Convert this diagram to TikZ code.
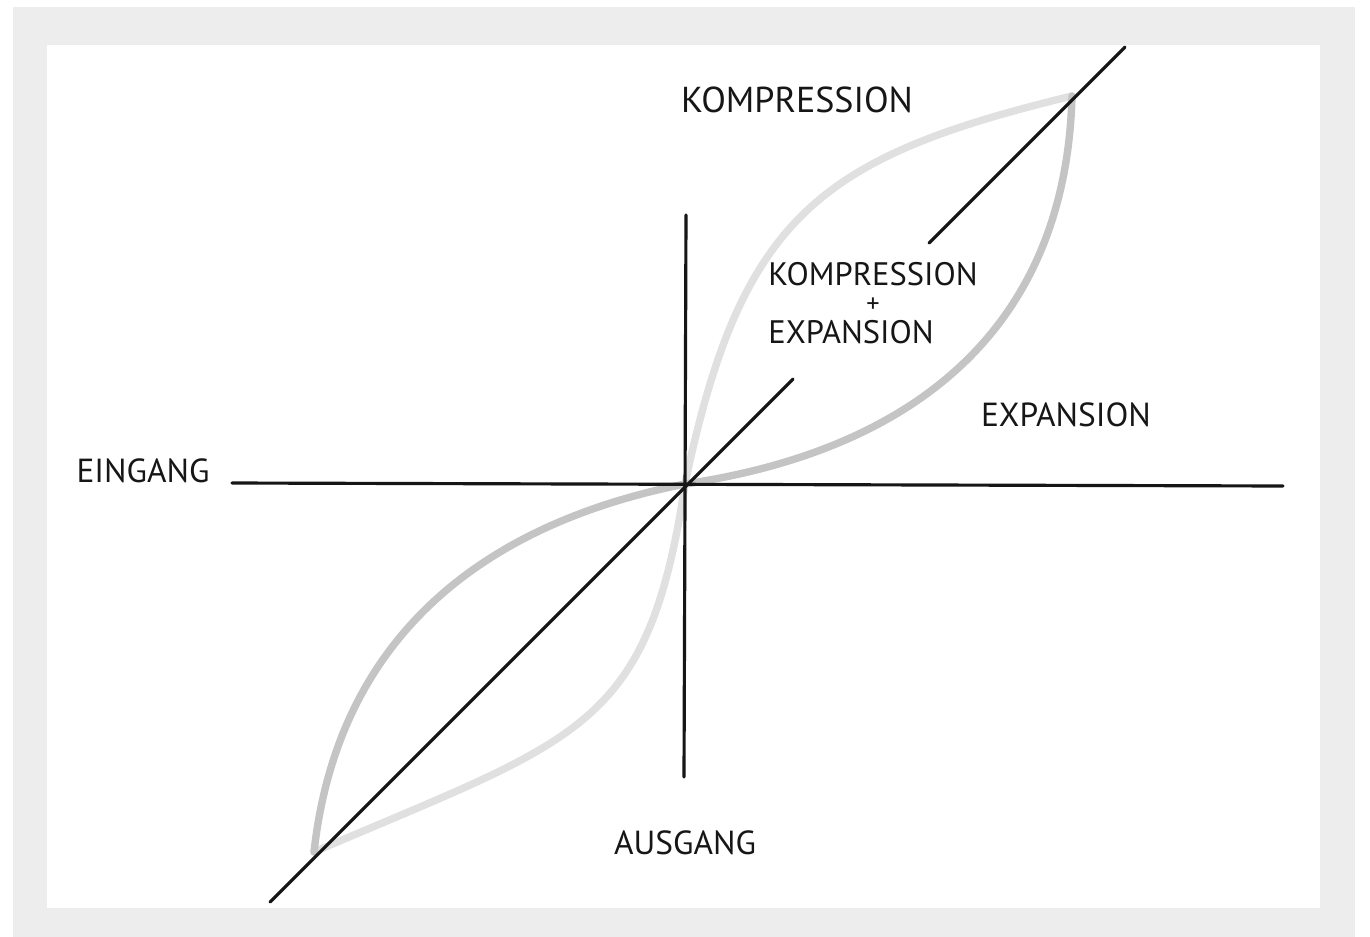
\documentclass[tikz,border=0pt]{standalone}
\usepackage{fontspec}
\setmainfont{PT Sans}
\usetikzlibrary{positioning}
\definecolor{paperframe}{RGB}{237,237,237}
\definecolor{kompgray}{RGB}{224,224,224}
\definecolor{expgray}{RGB}{196,196,196}
\definecolor{inktext}{RGB}{22,22,22}

\begin{document}
\begin{tikzpicture}[x=0.02cm, y=-0.02cm,
    achse/.style={draw=inktext, line width=1.8pt, line cap=round},
    kurve/.style={line width=4.2pt, line cap=round},
    beschrift/.style={font=\fontsize{19}{21}\selectfont, text=inktext, inner sep=0pt}]
    \useasboundingbox (0,0) rectangle (1370,937);
    % paper frame
    \fill[paperframe] (13,7) rectangle (1355,937);
    \fill[white] (47,45) rectangle (1320,908);

    \coordinate (O) at (685,484);
    \coordinate (ein) at (232,483);
    \coordinate (ausR) at (1283,486);
    \coordinate (oben) at (686,215);
    \coordinate (unten) at (684,777);
    \coordinate (diagU) at (270,902);
    \coordinate (diagM) at (793,379);
    \coordinate (diagN) at (929,243);
    \coordinate (diagO) at (1125,47);
    \coordinate (obenEnde) at (1072,96);
    \coordinate (untenEnde) at (314,852);

    % compression curves (light)
    \draw[kurve, kompgray] (O) .. controls (741,216) and (820,157) .. (obenEnde);
    \draw[kurve, kompgray] (O) .. controls (648,731) and (579,738) .. (untenEnde);
    % expansion curves (dark)
    \draw[kurve, expgray] (O) .. controls (921,449) and (1066,323) .. (obenEnde);
    \draw[kurve, expgray] (O) .. controls (464,528) and (336,653) .. (untenEnde);

    % axes
    \draw[achse] (ein) -- (ausR);
    \draw[achse] (oben) -- (unten);
    \draw[achse] (diagU) -- (diagM);
    \draw[achse] (diagN) -- (diagO);

    % labels
    \node[beschrift, font=\fontsize{20.5}{22}\selectfont] (komp) at (797,100) {KOMPRESSION};
    \node[beschrift] (expa) at (1066,415) {EXPANSION};
    \node[beschrift] (eing) at (143,471) {EINGANG};
    \node[beschrift] (ausg) at (685,843) {AUSGANG};
    \node[beschrift, font=\fontsize{18.5}{15.5}\selectfont] (mitte) at (873,307)
        {\begin{tabular}{@{}l@{}}KOMPRESSION\\\multicolumn{1}{@{}c@{}}{\fontsize{15}{15}\selectfont +}\\EXPANSION\end{tabular}};
\end{tikzpicture}
\end{document}
